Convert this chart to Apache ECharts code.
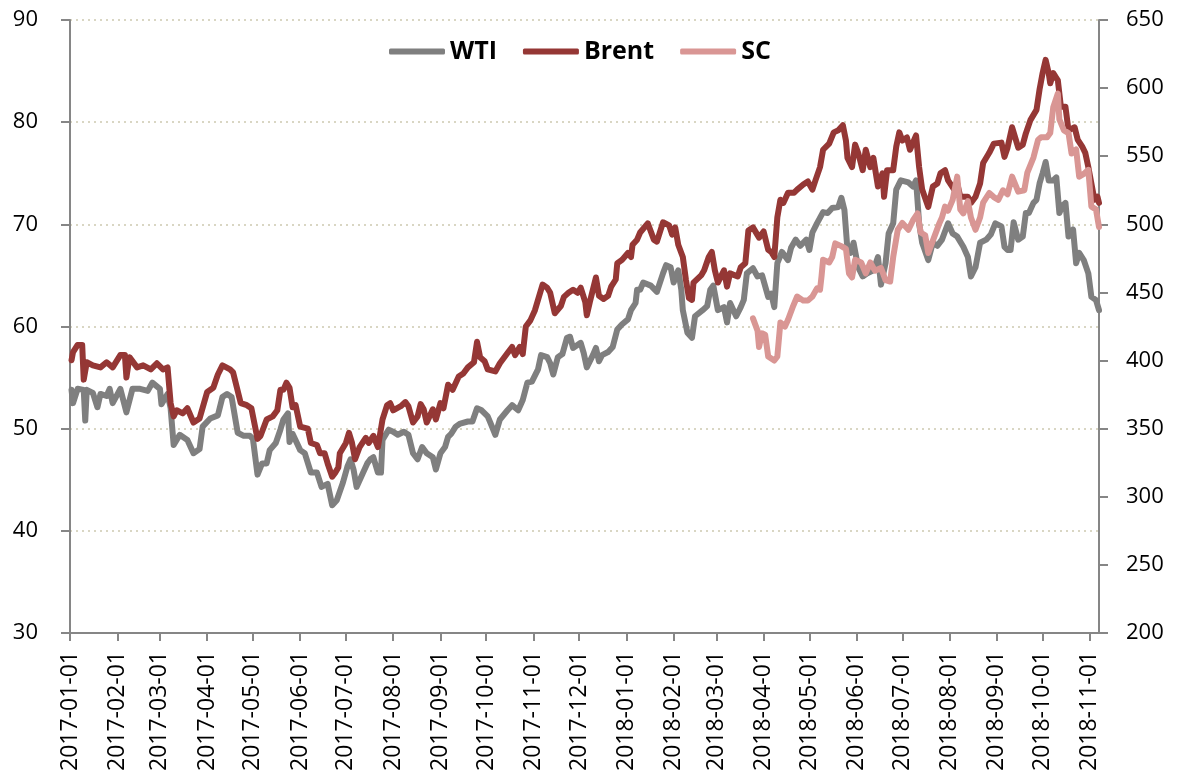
<!DOCTYPE html>
<html>
<head>
<meta charset="utf-8">
<script src="https://cdn.jsdelivr.net/npm/echarts@6/dist/echarts.min.js"></script>
<style>
  html, body { margin: 0; padding: 0; background: #fff; }
  #main { width: 1181px; height: 778px; }
</style>
</head>
<body>
<div id="main"></div>
<script>
// axis range
var firstDay = '2017-01-01';
var lastDay = '2018-11-07';
var leftTicks = [30, 90, 10];
var rightTicks = [200, 650, 50];

// WTI, left axis
var wti = [
  ['2017-01-02',53.8],['2017-01-03',52.5],['2017-01-06',53.9],['2017-01-10',53.8],['2017-01-11',50.8],
  ['2017-01-12',53.8],['2017-01-16',53.5],['2017-01-19',52.1],['2017-01-21',53.4],['2017-01-25',53.2],
  ['2017-01-27',53.9],['2017-01-29',52.5],['2017-02-03',53.9],['2017-02-07',51.6],['2017-02-11',53.9],
  ['2017-02-16',53.9],['2017-02-21',53.7],['2017-02-24',54.5],['2017-03-01',53.9],['2017-03-02',52.4],
  ['2017-03-06',53.4],['2017-03-08',52.0],['2017-03-10',48.4],['2017-03-14',49.4],['2017-03-19',48.9],
  ['2017-03-23',47.6],['2017-03-27',48.0],['2017-03-29',50.2],['2017-04-03',51.0],['2017-04-08',51.3],
  ['2017-04-11',53.1],['2017-04-14',53.4],['2017-04-17',53.1],['2017-04-21',49.6],['2017-04-25',49.3],
  ['2017-04-29',49.3],['2017-05-01',49.0],['2017-05-04',45.5],['2017-05-07',46.6],['2017-05-10',46.6],
  ['2017-05-12',47.9],['2017-05-16',48.6],['2017-05-19',49.9],['2017-05-21',50.9],['2017-05-24',51.5],
  ['2017-05-25',48.7],['2017-05-27',49.5],['2017-06-01',47.9],['2017-06-04',47.6],['2017-06-08',45.7],
  ['2017-06-12',45.7],['2017-06-15',44.3],['2017-06-19',44.6],['2017-06-22',42.5],['2017-06-25',43.0],
  ['2017-06-29',44.7],['2017-07-02',46.3],['2017-07-04',47.0],['2017-07-06',46.0],['2017-07-08',44.3],
  ['2017-07-12',45.6],['2017-07-15',46.6],['2017-07-17',47.0],['2017-07-19',47.2],['2017-07-22',45.7],
  ['2017-07-24',45.7],['2017-07-25',48.9],['2017-07-29',49.9],['2017-08-01',49.7],['2017-08-04',49.4],
  ['2017-08-08',49.7],['2017-08-11',49.4],['2017-08-14',47.6],['2017-08-17',47.0],['2017-08-20',48.2],
  ['2017-08-23',47.6],['2017-08-27',47.2],['2017-08-29',46.0],['2017-09-01',47.6],['2017-09-04',48.2],
  ['2017-09-06',49.2],['2017-09-08',49.5],['2017-09-11',50.2],['2017-09-14',50.5],['2017-09-19',50.7],
  ['2017-09-22',50.7],['2017-09-25',52.0],['2017-09-28',51.8],['2017-10-02',51.2],['2017-10-04',50.5],
  ['2017-10-07',49.4],['2017-10-10',50.9],['2017-10-15',51.8],['2017-10-18',52.3],['2017-10-22',51.8],
  ['2017-10-25',52.8],['2017-10-28',54.5],['2017-10-31',54.6],['2017-11-04',55.8],['2017-11-06',57.2],
  ['2017-11-10',57.0],['2017-11-12',56.4],['2017-11-14',55.3],['2017-11-17',57.0],['2017-11-20',57.3],
  ['2017-11-23',58.9],['2017-11-25',59.0],['2017-11-27',57.9],['2017-12-02',58.4],['2017-12-04',57.4],
  ['2017-12-06',56.0],['2017-12-10',57.2],['2017-12-12',57.9],['2017-12-14',56.6],['2017-12-16',57.2],
  ['2017-12-20',57.5],['2017-12-23',58.0],['2017-12-26',59.7],['2017-12-29',60.2],['2018-01-02',60.7],
  ['2018-01-04',61.6],['2018-01-07',62.3],['2018-01-08',63.6],['2018-01-10',63.6],['2018-01-12',64.3],
  ['2018-01-17',64.0],['2018-01-21',63.4],['2018-01-25',65.2],['2018-01-27',66.0],['2018-01-30',65.8],
  ['2018-02-01',64.3],['2018-02-04',65.5],['2018-02-06',63.6],['2018-02-07',61.6],['2018-02-10',59.4],
  ['2018-02-13',58.9],['2018-02-15',61.0],['2018-02-20',61.6],['2018-02-23',62.0],['2018-02-25',63.6],
  ['2018-02-27',64.0],['2018-03-02',61.6],['2018-03-06',61.9],['2018-03-08',60.4],['2018-03-10',62.3],
  ['2018-03-14',61.0],['2018-03-17',61.9],['2018-03-19',62.6],['2018-03-21',65.2],['2018-03-25',65.7],
  ['2018-03-28',64.9],['2018-03-31',65.0],['2018-04-04',62.9],['2018-04-06',63.2],['2018-04-08',61.9],
  ['2018-04-10',66.2],['2018-04-13',67.3],['2018-04-17',66.5],['2018-04-19',67.7],['2018-04-22',68.5],
  ['2018-04-25',67.9],['2018-04-29',68.5],['2018-05-01',67.5],['2018-05-03',69.2],['2018-05-06',70.1],
  ['2018-05-10',71.2],['2018-05-13',71.1],['2018-05-16',71.6],['2018-05-20',71.7],['2018-05-22',72.6],
  ['2018-05-24',71.4],['2018-05-26',67.5],['2018-05-28',67.2],['2018-05-30',68.2],['2018-06-02',65.8],
  ['2018-06-05',64.9],['2018-06-08',65.2],['2018-06-12',65.5],['2018-06-15',66.8],['2018-06-17',64.1],
  ['2018-06-20',66.2],['2018-06-22',69.1],['2018-06-25',70.1],['2018-06-27',73.4],['2018-06-30',74.3],
  ['2018-07-05',74.1],['2018-07-08',73.7],['2018-07-10',74.3],['2018-07-12',70.1],['2018-07-14',68.2],
  ['2018-07-18',66.5],['2018-07-21',68.2],['2018-07-24',67.9],['2018-07-27',68.5],['2018-07-31',70.1],
  ['2018-08-03',69.1],['2018-08-06',68.8],['2018-08-10',67.8],['2018-08-13',66.8],['2018-08-15',64.9],
  ['2018-08-18',65.8],['2018-08-21',68.2],['2018-08-25',68.5],['2018-08-28',69.0],['2018-08-31',70.1],
  ['2018-09-04',69.8],['2018-09-06',67.8],['2018-09-08',67.5],['2018-09-10',67.5],['2018-09-12',70.2],
  ['2018-09-15',68.5],['2018-09-18',68.8],['2018-09-20',71.1],['2018-09-22',71.1],['2018-09-25',72.1],
  ['2018-09-27',72.4],['2018-09-29',74.0],['2018-10-01',75.0],['2018-10-03',76.1],['2018-10-05',74.3],
  ['2018-10-08',74.3],['2018-10-10',74.6],['2018-10-12',71.1],['2018-10-14',71.8],['2018-10-16',72.1],
  ['2018-10-18',68.8],['2018-10-21',69.5],['2018-10-23',66.2],['2018-10-25',67.2],['2018-10-28',66.5],
  ['2018-10-31',65.2],['2018-11-02',62.9],['2018-11-05',62.6],['2018-11-07',61.6]
];

// Brent, left axis
var brent = [
  ['2017-01-02',56.7],['2017-01-03',57.5],['2017-01-06',58.2],['2017-01-09',58.2],['2017-01-10',54.8],
  ['2017-01-12',56.5],['2017-01-16',56.2],['2017-01-21',56.0],['2017-01-25',56.5],['2017-01-29',56.0],
  ['2017-02-03',57.2],['2017-02-06',57.2],['2017-02-07',55.0],['2017-02-09',57.0],['2017-02-14',56.0],
  ['2017-02-18',56.2],['2017-02-23',55.8],['2017-02-27',56.4],['2017-03-03',55.8],['2017-03-06',56.0],
  ['2017-03-08',52.5],['2017-03-10',51.2],['2017-03-12',51.8],['2017-03-16',51.5],['2017-03-19',52.0],
  ['2017-03-23',50.6],['2017-03-27',51.0],['2017-04-01',53.6],['2017-04-05',54.0],['2017-04-08',55.3],
  ['2017-04-11',56.2],['2017-04-16',55.8],['2017-04-18',55.5],['2017-04-23',52.5],['2017-04-27',52.3],
  ['2017-04-30',52.0],['2017-05-04',49.0],['2017-05-06',49.3],['2017-05-10',50.9],['2017-05-14',51.2],
  ['2017-05-17',51.8],['2017-05-19',53.8],['2017-05-21',53.8],['2017-05-23',54.5],['2017-05-25',54.0],
  ['2017-05-27',52.1],['2017-05-29',52.3],['2017-06-01',50.2],['2017-06-06',50.0],['2017-06-08',48.6],
  ['2017-06-12',48.4],['2017-06-14',47.6],['2017-06-17',47.6],['2017-06-19',46.6],['2017-06-22',45.3],
  ['2017-06-24',45.7],['2017-06-26',46.2],['2017-06-27',47.6],['2017-07-01',48.6],['2017-07-03',49.6],
  ['2017-07-05',48.6],['2017-07-07',47.0],['2017-07-10',48.2],['2017-07-14',49.1],['2017-07-16',48.6],
  ['2017-07-19',49.3],['2017-07-22',48.2],['2017-07-25',50.9],['2017-07-28',52.3],['2017-07-30',52.5],
  ['2017-08-01',51.8],['2017-08-06',52.2],['2017-08-09',52.6],['2017-08-11',52.2],['2017-08-14',50.6],
  ['2017-08-17',51.2],['2017-08-19',52.4],['2017-08-21',51.9],['2017-08-23',50.6],['2017-08-27',51.9],
  ['2017-08-29',50.9],['2017-09-01',52.5],['2017-09-03',52.0],['2017-09-06',54.3],['2017-09-09',53.8],
  ['2017-09-13',55.1],['2017-09-16',55.4],['2017-09-19',56.0],['2017-09-23',56.5],['2017-09-25',58.5],
  ['2017-09-27',57.0],['2017-09-30',56.6],['2017-10-02',55.8],['2017-10-07',55.6],['2017-10-10',56.4],
  ['2017-10-15',57.4],['2017-10-18',58.0],['2017-10-20',57.2],['2017-10-23',58.0],['2017-10-25',57.3],
  ['2017-10-27',60.0],['2017-10-30',60.6],['2017-11-02',61.6],['2017-11-04',62.6],['2017-11-07',64.1],
  ['2017-11-10',63.8],['2017-11-12',63.3],['2017-11-15',61.3],['2017-11-19',62.0],['2017-11-21',62.9],
  ['2017-11-24',63.3],['2017-11-27',63.6],['2017-11-30',63.3],['2017-12-02',63.8],['2017-12-05',62.4],
  ['2017-12-06',61.1],['2017-12-08',62.4],['2017-12-12',64.8],['2017-12-14',63.0],['2017-12-17',62.7],
  ['2017-12-20',63.0],['2017-12-22',63.9],['2017-12-25',64.6],['2017-12-26',66.2],['2017-12-29',66.5],
  ['2018-01-02',67.2],['2018-01-04',66.8],['2018-01-05',68.0],['2018-01-08',68.5],['2018-01-10',69.2],
  ['2018-01-15',70.1],['2018-01-19',68.5],['2018-01-21',68.3],['2018-01-25',70.2],['2018-01-29',69.9],
  ['2018-01-31',69.0],['2018-02-02',69.7],['2018-02-04',68.0],['2018-02-07',66.8],['2018-02-09',64.6],
  ['2018-02-11',62.8],['2018-02-13',62.6],['2018-02-14',64.3],['2018-02-19',65.0],['2018-02-21',65.5],
  ['2018-02-24',66.8],['2018-02-26',67.3],['2018-02-28',65.5],['2018-03-02',64.3],['2018-03-06',65.5],
  ['2018-03-08',63.9],['2018-03-10',65.2],['2018-03-15',64.9],['2018-03-17',65.8],['2018-03-20',66.2],
  ['2018-03-22',69.4],['2018-03-25',69.7],['2018-03-29',68.7],['2018-04-01',69.3],['2018-04-04',67.5],
  ['2018-04-06',67.3],['2018-04-08',66.8],['2018-04-10',70.7],['2018-04-12',72.4],['2018-04-14',72.1],
  ['2018-04-17',73.1],['2018-04-21',73.1],['2018-04-23',73.4],['2018-04-27',73.9],['2018-04-30',74.2],
  ['2018-05-03',73.4],['2018-05-05',74.3],['2018-05-08',75.6],['2018-05-10',77.3],['2018-05-14',77.9],
  ['2018-05-17',79.0],['2018-05-20',79.2],['2018-05-23',79.7],['2018-05-25',78.2],['2018-05-26',76.5],
  ['2018-05-29',75.6],['2018-05-31',77.8],['2018-06-02',77.0],['2018-06-05',75.3],['2018-06-07',77.3],
  ['2018-06-10',75.6],['2018-06-12',76.5],['2018-06-15',73.7],['2018-06-18',75.0],['2018-06-19',72.7],
  ['2018-06-21',75.3],['2018-06-25',75.3],['2018-06-27',77.6],['2018-06-29',79.0],['2018-07-01',78.2],
  ['2018-07-04',78.5],['2018-07-06',77.3],['2018-07-10',78.7],['2018-07-12',75.6],['2018-07-14',73.4],
  ['2018-07-18',71.7],['2018-07-21',73.7],['2018-07-24',74.0],['2018-07-26',75.0],['2018-07-29',75.3],
  ['2018-07-31',74.3],['2018-08-04',73.4],['2018-08-06',74.0],['2018-08-08',72.7],['2018-08-13',72.7],
  ['2018-08-15',72.1],['2018-08-18',72.7],['2018-08-21',74.0],['2018-08-23',76.0],['2018-08-27',77.0],
  ['2018-08-30',77.9],['2018-09-04',78.0],['2018-09-06',76.6],['2018-09-08',77.5],['2018-09-11',79.5],
  ['2018-09-15',77.5],['2018-09-18',77.8],['2018-09-20',78.9],['2018-09-23',80.2],['2018-09-27',81.2],
  ['2018-09-29',83.2],['2018-10-01',84.8],['2018-10-03',86.1],['2018-10-05',84.8],['2018-10-06',83.8],
  ['2018-10-08',84.8],['2018-10-11',84.1],['2018-10-13',81.5],['2018-10-16',81.5],['2018-10-18',79.2],
  ['2018-10-22',79.5],['2018-10-24',78.3],['2018-10-27',77.6],['2018-10-29',77.0],['2018-10-31',75.6],
  ['2018-11-04',72.4],['2018-11-06',72.7],['2018-11-07',72.1]
];

// SC (Shanghai crude), right axis
var sc = [
  ['2018-03-25',431],['2018-03-28',422],['2018-03-29',410],['2018-03-31',420],['2018-04-02',419],
  ['2018-04-04',403],['2018-04-08',400],['2018-04-10',403],['2018-04-12',428],['2018-04-15',425],
  ['2018-04-17',430],['2018-04-20',439],['2018-04-23',447],['2018-04-27',444],['2018-04-30',444],
  ['2018-05-03',447],['2018-05-06',453],['2018-05-08',452],['2018-05-09',462],['2018-05-10',474],
  ['2018-05-14',472],['2018-05-16',476],['2018-05-18',486],['2018-05-22',484],['2018-05-25',482],
  ['2018-05-27',464],['2018-05-29',461],['2018-05-31',474],['2018-06-04',472],['2018-06-07',464],
  ['2018-06-10',472],['2018-06-13',466],['2018-06-17',468],['2018-06-20',459],['2018-06-23',458],
  ['2018-06-25',476],['2018-06-28',496],['2018-07-01',501],['2018-07-05',496],['2018-07-08',503],
  ['2018-07-11',508],['2018-07-13',494],['2018-07-16',492],['2018-07-18',479],['2018-07-22',491],
  ['2018-07-25',500],['2018-07-27',505],['2018-07-29',513],['2018-07-31',510],['2018-08-03',518],
  ['2018-08-06',535],['2018-08-08',511],['2018-08-10',508],['2018-08-13',517],['2018-08-15',505],
  ['2018-08-18',496],['2018-08-21',505],['2018-08-23',516],['2018-08-27',523],['2018-08-30',520],
  ['2018-09-02',518],['2018-09-05',525],['2018-09-08',522],['2018-09-11',535],['2018-09-15',524],
  ['2018-09-19',525],['2018-09-21',538],['2018-09-25',549],['2018-09-28',562],['2018-09-30',564],
  ['2018-10-04',564],['2018-10-06',567],['2018-10-08',586],['2018-10-11',596],['2018-10-12',577],
  ['2018-10-15',569],['2018-10-18',567],['2018-10-20',552],['2018-10-23',555],['2018-10-25',535],
  ['2018-10-28',537],['2018-10-31',540],['2018-11-02',513],['2018-11-05',511],['2018-11-07',498]
];

// every calendar day is a category, so months get their true width
var days = [];
var dayIndex = {};
for (var t = Date.parse(firstDay); t <= Date.parse(lastDay); t += 86400000) {
  var d = new Date(t).toISOString().slice(0, 10);
  dayIndex[d] = days.length;
  days.push(d);
}
function toPoints(list) {
  return list.map(function (p) { return [dayIndex[p[0]], p[1]]; });
}
function monthStart(i, v) { return v.slice(8) === '01'; }

var axisGray = '#868686';
var labelFont = { color: '#000', fontFamily: 'Open Sans', fontSize: 22 };

var chart = echarts.init(document.getElementById('main'));
chart.setOption({
  animation: false,
  backgroundColor: '#fff',
  grid: { left: 70, right: 82, top: 20, bottom: 145 },
  legend: {
    left: 384, top: 34,
    icon: 'roundRect', itemWidth: 56, itemHeight: 6, itemGap: 26,
    textStyle: { color: '#000', fontFamily: 'Open Sans', fontWeight: 'bold', fontSize: 25 },
    data: ['WTI', 'Brent', 'SC']
  },
  xAxis: {
    type: 'category',
    data: days,
    boundaryGap: false,
    axisLine: { onZero: false, lineStyle: { color: axisGray, width: 2 } },
    axisTick: { interval: monthStart, length: 8, lineStyle: { color: axisGray, width: 2 } },
    axisLabel: { interval: monthStart, rotate: 90, margin: 18, fontSize: 23, color: '#000', fontFamily: 'Open Sans' },
    splitLine: { show: false }
  },
  yAxis: [
    {
      type: 'value', position: 'left',
      min: leftTicks[0], max: leftTicks[1], interval: leftTicks[2],
      axisLine: { show: true, lineStyle: { color: axisGray, width: 2 } },
      axisTick: { show: true, length: 9, lineStyle: { color: axisGray, width: 2 } },
      axisLabel: Object.assign({ margin: 32 }, labelFont),
      splitLine: { show: true, lineStyle: { color: '#D9D6C3', width: 2, type: [2, 4] } }
    },
    {
      type: 'value', position: 'right',
      min: rightTicks[0], max: rightTicks[1], interval: rightTicks[2],
      axisLine: { show: true, lineStyle: { color: axisGray, width: 2 } },
      axisTick: { show: true, length: 9, lineStyle: { color: axisGray, width: 2 } },
      axisLabel: Object.assign({ margin: 27 }, labelFont),
      splitLine: { show: false }
    }
  ],
  series: [
    {
      name: 'WTI', type: 'line', yAxisIndex: 0, data: toPoints(wti),
      showSymbol: false, color: '#7F7F7F',
      lineStyle: { color: '#7F7F7F', width: 6, join: 'round', cap: 'round' }
    },
    {
      name: 'Brent', type: 'line', yAxisIndex: 0, data: toPoints(brent),
      showSymbol: false, color: '#953735',
      lineStyle: { color: '#953735', width: 6, join: 'round', cap: 'round' }
    },
    {
      name: 'SC', type: 'line', yAxisIndex: 1, data: toPoints(sc),
      showSymbol: false, color: '#D99694',
      lineStyle: { color: '#D99694', width: 6, join: 'round', cap: 'round' }
    }
  ]
});
</script>
</body>
</html>
